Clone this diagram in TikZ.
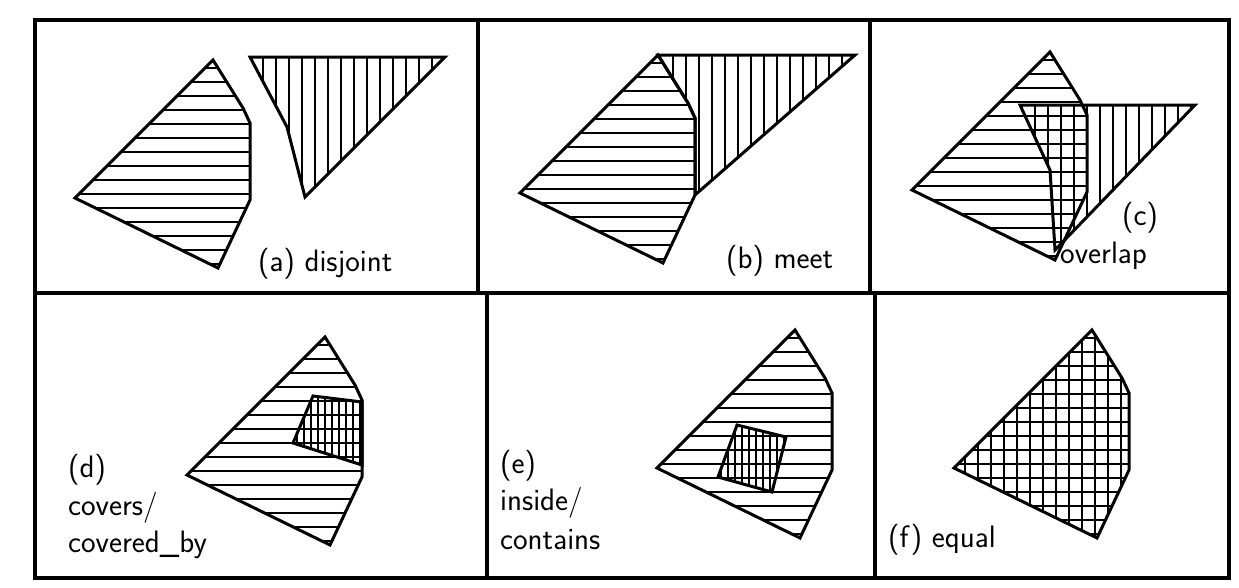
\documentclass[tikz,border=0pt]{standalone}
\usepackage{fontspec}
\begin{document}
\begin{tikzpicture}[x=1pt,y=-1pt,
  frame/.style={line width=3.5pt},
  poly/.style={line width=3pt,line join=miter},
  hatch/.style={line width=1.9pt},
  lbl/.style={font=\sffamily\fontsize{31}{36}\selectfont,inner sep=0pt,anchor=west}]
\useasboundingbox (0,0) rectangle (1239,587);
\def\Lpath{(0,0) -- (30,48) -- (37,63) -- (37,140) -- (5,208) -- (-138,138) -- cycle}
\newcommand\hh[2][14]{\begin{scope}\clip #2; \foreach \y in {-300,-286,...,300} \draw[hatch] (-400,\y) -- (400,\y);\end{scope}}
% frames
\draw[frame] (35,20) rectangle (1229,578);
\draw[frame] (35,293) -- (1229,293);
\draw[frame] (478,20) -- (478,293);
\draw[frame] (870,20) -- (870,293);
\draw[frame] (487,293) -- (487,578);
\draw[frame] (875,293) -- (875,578);
% (a)
\begin{scope}[shift={(213,60)}]
 \hh{\Lpath} \draw[poly] \Lpath;
\end{scope}
\def\Ra{(250,57) -- (445,57) -- (305,197) -- (287,127) -- cycle}
\begin{scope}\clip \Ra; \foreach \x in {250,263,...,450} \draw[hatch] (\x,50) -- (\x,200);\end{scope}
\draw[poly] \Ra;
\node[lbl] (la) at (258,264) {(a) disjoint};
% (b)
\begin{scope}[shift={(658,55)}]
 \hh{\Lpath} \draw[poly] \Lpath;
\end{scope}
\def\Rb{(658,55) -- (855,55) -- (695,195) -- (695,118) -- (688,103) -- cycle}
\begin{scope}\clip \Rb; \foreach \x in {660,673,...,860} \draw[hatch] (\x,50) -- (\x,200);\end{scope}
\draw[poly] \Rb;
\node[lbl] (lb) at (726,261) {(b) meet};
% (c)
\begin{scope}[shift={(1050,52)}]
 \hh{\Lpath} \draw[poly] \Lpath;
\end{scope}
\def\Rc{(1020,105) -- (1195,105) -- (1055,250) -- (1050,170) -- cycle}
\begin{scope}\clip \Rc; \foreach \x in {1022,1035,...,1200} \draw[hatch] (\x,100) -- (\x,255);\end{scope}
\draw[poly] \Rc;
\node[lbl] (lc1) at (1122,218) {(c)};
\node[lbl] (lc2) at (1060,256) {overlap};
% (d)
\begin{scope}[shift={(325,337)}]
 \hh{\Lpath} \draw[poly] \Lpath;
\end{scope}
\def\Qd{(313,396) -- (362,402) -- (362,465) -- (293,443) -- cycle}
\begin{scope}\clip \Qd; \foreach \x in {290,297,...,365} \draw[hatch] (\x,390) -- (\x,470);\end{scope}
\draw[poly] \Qd;
\node[lbl] (ld1) at (68,470) {(d)};
\node[lbl] (ld2) at (68,508) {covers/};
\node[lbl] (ld3) at (68,545) {covered\_by};
% (e)
\begin{scope}[shift={(795,330)}]
 \hh{\Lpath} \draw[poly] \Lpath;
\end{scope}
\def\Qe{(737,425) -- (786,437) -- (772,492) -- (718,477) -- cycle}
\begin{scope}\clip \Qe; \foreach \x in {714,721,...,790} \draw[hatch] (\x,420) -- (\x,495);\end{scope}
\draw[poly] \Qe;
\node[lbl] (le1) at (500,466) {(e)};
\node[lbl] (le2) at (500,503) {inside/};
\node[lbl] (le3) at (500,540) {contains};
% (f)
\begin{scope}[shift={(1092,330)}]
 \hh{\Lpath}
 \begin{scope}\clip \Lpath; \foreach \x in {-140,-127,...,40} \draw[hatch] (\x,0) -- (\x,210);\end{scope}
 \draw[poly] \Lpath;
\end{scope}
\node[lbl] (lf) at (888,540) {(f) equal};
\end{tikzpicture}
\end{document}
